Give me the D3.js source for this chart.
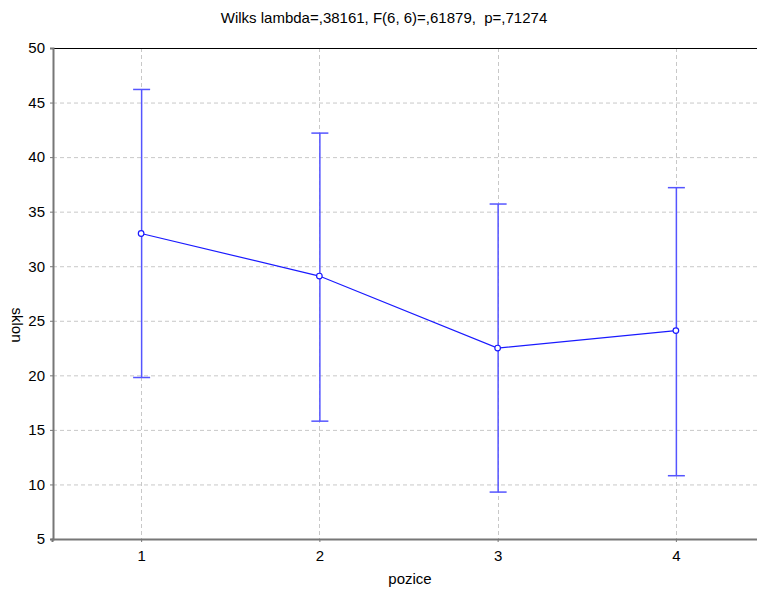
<html>
<head>
<script src="https://cdn.jsdelivr.net/npm/d3@7"></script>
</head>
<body style="margin:0">
<svg width="757" height="590" id="chart"></svg>
<script>
// values
var positions = [1, 2, 3, 4];
var means = [33.0, 29.1, 22.5, 24.1];
var upper = [46.2, 42.2, 35.7, 37.2];
var lower = [19.8, 15.8, 9.3, 10.8];
var yTicks = [5, 10, 15, 20, 25, 30, 35, 40, 45, 50];
var title = "Wilks lambda=,38161, F(6, 6)=,61879,  p=,71274";

var svg = d3.select("#chart"),
    font = "Liberation Sans, Arial, sans-serif";

svg.append("rect").attr("width", 757).attr("height", 590).attr("fill", "white");

var x = d3.scaleLinear().domain([0.5, 4.5]).range([52, 765]);
var y = d3.scaleLinear().domain([5, 50]).range([539, 48]);

// grid
var grid = svg.append("g")
  .style("stroke", "#c8c8c8")
  .style("stroke-dasharray", "4,3");
grid.selectAll("line.h")
  .data(yTicks.slice(1, -1))
  .enter().append("line")
  .attr("x1", 53).attr("x2", 766)
  .attr("y1", function(d) { return y(d) + 0.5; })
  .attr("y2", function(d) { return y(d) + 0.5; });
grid.selectAll("line.v")
  .data(positions)
  .enter().append("line")
  .attr("x1", function(d) { return Math.round(x(d)) + 0.5; })
  .attr("x2", function(d) { return Math.round(x(d)) + 0.5; })
  .attr("y1", 48).attr("y2", 539);

// frame
svg.append("line").attr("x1", 53).attr("x2", 766).attr("y1", 48.5).attr("y2", 48.5)
  .style("stroke", "#000").style("stroke-width", 1);

// axes
var yAxis = svg.append("g")
  .attr("transform", "translate(53,0)")
  .call(d3.axisLeft(y).tickValues(yTicks).tickSize(3).tickPadding(5));
var xAxis = svg.append("g")
  .attr("transform", "translate(0,539)")
  .call(d3.axisBottom(x).tickValues(positions).tickFormat(d3.format("d")).tickSize(3).tickPadding(8));

[yAxis, xAxis].forEach(function(a) {
  a.select(".domain").style("stroke", "#777").style("stroke-width", 2);
  a.selectAll(".tick line").style("stroke", "#777");
  a.selectAll("text").style("font-family", font).style("font-size", "15px").attr("fill", "#000");
});

// error bars
var bars = svg.append("g")
  .style("stroke", "#5555ff")
  .style("stroke-width", 1.5);
bars.selectAll("line.bar")
  .data(positions)
  .enter().append("line")
  .attr("x1", function(d) { return x(d) + 0.5; })
  .attr("x2", function(d) { return x(d) + 0.5; })
  .attr("y1", function(d, i) { return y(upper[i]); })
  .attr("y2", function(d, i) { return y(lower[i]); });
bars.selectAll("line.capU")
  .data(positions)
  .enter().append("line")
  .attr("x1", function(d) { return x(d) - 8; })
  .attr("x2", function(d) { return x(d) + 9; })
  .attr("y1", function(d, i) { return y(upper[i]); })
  .attr("y2", function(d, i) { return y(upper[i]); });
bars.selectAll("line.capL")
  .data(positions)
  .enter().append("line")
  .attr("x1", function(d) { return x(d) - 8; })
  .attr("x2", function(d) { return x(d) + 9; })
  .attr("y1", function(d, i) { return y(lower[i]); })
  .attr("y2", function(d, i) { return y(lower[i]); });

// mean line
var line = d3.line()
  .x(function(d) { return x(d); })
  .y(function(d, i) { return y(means[i]); });
svg.append("path")
  .datum(positions)
  .attr("d", line)
  .style("fill", "none")
  .style("stroke", "#1a1aff")
  .style("stroke-width", 1.2);

svg.append("g").selectAll("circle")
  .data(positions)
  .enter().append("circle")
  .attr("cx", function(d) { return x(d); })
  .attr("cy", function(d, i) { return y(means[i]); })
  .attr("r", 2.8)
  .style("fill", "white")
  .style("stroke", "#1a1aff")
  .style("stroke-width", 1.2);

// texts
svg.append("text").attr("x", 384).attr("y", 23).attr("text-anchor", "middle")
  .style("font-family", font).style("font-size", "15px").style("white-space", "pre").text(title);
svg.append("text").attr("x", 410).attr("y", 584).attr("text-anchor", "middle")
  .style("font-family", font).style("font-size", "15px").text("pozice");
svg.append("text").attr("transform", "translate(12,325) rotate(90)").attr("text-anchor", "middle")
  .style("font-family", font).style("font-size", "15px").text("sklon");
</script>
</body>
</html>
